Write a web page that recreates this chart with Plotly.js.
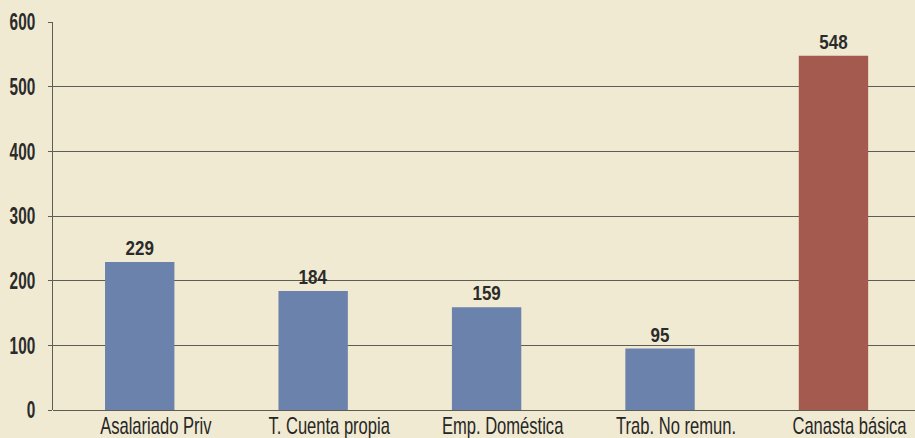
<!DOCTYPE html>
<html><head><meta charset="utf-8">
<script src="https://cdn.plot.ly/plotly-3.0.1.min.js"></script>
<style>html,body{margin:0;padding:0;background:#f0ead2;}#chart{width:915px;height:438px;}</style>
</head><body><div id="chart"></div>
<script>
var categories = ["Asalariado Priv", "T. Cuenta propia", "Emp. Doméstica", "Trab. No remun.", "Canasta básica"];
var values = [229, 184, 159, 95, 548];
var barColors = ["#6b82ad", "#6b82ad", "#6b82ad", "#6b82ad", "#a55a50"];
var yTicks = [0, 100, 200, 300, 400, 500, 600];

var font = "'Liberation Sans', Arial, sans-serif";
var trace = {
  type: "bar", x: categories, y: values,
  marker: {color: barColors},
  text: values.map(String), textposition: "outside",
  textfont: {family: font, size: 20, color: "#2b2b2b", weight: "bold"},
  cliponaxis: false, hoverinfo: "none"
};
var layout = {
  width: 915, height: 438,
  margin: {l: 53, r: 0, t: 22, b: 28},
  paper_bgcolor: "#f0ead2", plot_bgcolor: "#f0ead2",
  bargap: 0.6, showlegend: false,
  xaxis: {range: [-0.5, 4.47], showgrid: false, ticks: "", tickfont: {family: font, size: 23, color: "#262626"},
          showline: false, zeroline: false, fixedrange: true, ticklabelstandoff: 0, ticklabelshift: 16},
  yaxis: {range: [0, 600], tickvals: yTicks, showgrid: true, gridcolor: "#5e5c55", gridwidth: 1,
          ticks: "outside", ticklen: 4, tickcolor: "#5e5c55",
          showline: true, linecolor: "#5e5c55", linewidth: 1, zeroline: true, zerolinecolor: "#5e5c55",
          tickfont: {family: font, size: 24, color: "#2b2b2b", weight: "bold"}, ticklabelstandoff: 8}
};
function condense(sel, s) {
  document.querySelectorAll(sel).forEach(function (el) {
    var b = el.getBBox();
    var anchor = el.getAttribute("text-anchor") || getComputedStyle(el).textAnchor;
    var ax = anchor === "end" ? b.x + b.width : (anchor === "start" ? b.x : b.x + b.width / 2);
    var t = el.getAttribute("transform") || "";
    el.setAttribute("transform", t + " translate(" + ax + ",0) scale(" + s + ",1) translate(" + (-ax) + ",0)");
  });
}
Plotly.newPlot("chart", [trace], layout, {staticPlot: true, displayModeBar: false}).then(function () {
  condense(".xtick text", 0.72);
  condense(".ytick text", 0.64);
  condense(".bartext, .textpoint text", 0.85);
});
</script></body></html>
